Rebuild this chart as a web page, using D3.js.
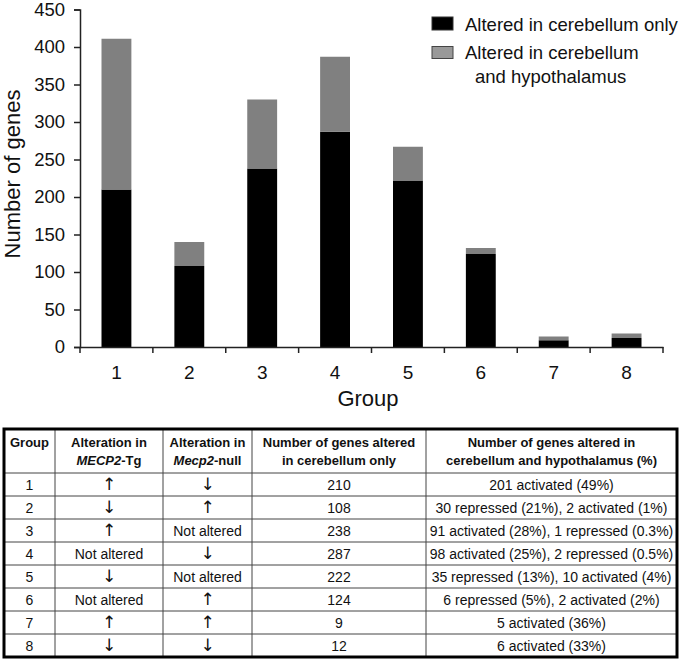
<!DOCTYPE html>
<html><head><meta charset="utf-8">
<script src="https://cdn.jsdelivr.net/npm/d3@7"></script>
<style>
body{margin:0;background:#fff;}
svg{display:block;font-family:"Liberation Sans",Arial,sans-serif;}
</style></head>
<body>
<svg id="c" width="683" height="661"></svg>
<script>
const groups = ["1","2","3","4","5","6","7","8"];
const cerebellumOnly = [210,108,238,287,222,124,9,12];
const cerebellumHypo = [201,32,92,100,45,8,5,6];
const yTicks = [0,50,100,150,200,250,300,350,400,450];
const seriesNames = ["Altered in cerebellum only","Altered in cerebellum and hypothalamus"];
const tgAlt = ["↑","↓","↑","Not altered","↓","Not altered","↑","↓"];
const nullAlt = ["↓","↑","Not altered","↓","Not altered","↑","↑","↓"];
const hypoText = ["201 activated (49%)","30 repressed (21%), 2 activated (1%)","91 activated (28%), 1 repressed (0.3%)","98 activated (25%), 2 repressed (0.5%)","35 repressed (13%), 10 activated (4%)","6 repressed (5%), 2 activated (2%)","5 activated (36%)","6 activated (33%)"];

const svg = d3.select("#c");
const x = d3.scaleBand().domain(groups).range([80,663]).padding(0);
const y = d3.scaleLinear().domain([0,450]).range([347,9.5]);
const bw = x.bandwidth();
const barW = bw*0.41;

const data = groups.map((g,i)=>({g, a:cerebellumOnly[i], b:cerebellumHypo[i]}));
const stack = d3.stack().keys(["a","b"])(data);
const colors = ["#000000","#808080"];
svg.append("g").selectAll("g").data(stack).join("g").attr("fill",(d,i)=>colors[i])
  .selectAll("rect").data(d=>d).join("rect")
  .attr("x",d=>x(d.data.g)+(bw-barW)/2).attr("width",barW)
  .attr("y",d=>y(d[1])).attr("height",d=>y(d[0])-y(d[1]));

// y axis
const ya = svg.append("g").attr("transform","translate(80,0)")
  .call(d3.axisLeft(y).tickValues(yTicks).tickSize(6).tickPadding(9));
ya.select(".domain").attr("stroke","#222").attr("stroke-width",1.5);
ya.selectAll(".tick line").attr("stroke","#222").attr("stroke-width",1.5);
ya.selectAll("text").attr("font-size",18.5).attr("fill","#111").attr("font-family","Liberation Sans, Arial, sans-serif");

// x axis
const xa = svg.append("g").attr("transform","translate(0,347)")
  .call(d3.axisBottom(x).tickSize(0).tickPadding(19));
xa.select(".domain").attr("stroke","#222").attr("stroke-width",1.5);
xa.selectAll("text").attr("font-size",19).attr("fill","#111").attr("font-family","Liberation Sans, Arial, sans-serif");
const bounds = groups.map(g=>x(g)).concat([x(groups[groups.length-1])+bw]);
svg.append("g").selectAll("line").data(bounds).join("line")
  .attr("x1",d=>d).attr("x2",d=>d).attr("y1",347).attr("y2",353)
  .attr("stroke","#222").attr("stroke-width",1.5);

svg.append("text").attr("x",368).attr("y",406).attr("text-anchor","middle")
  .attr("font-size",22).attr("fill","#111").text("Group");
svg.append("text").attr("transform","translate(20,174) rotate(-90)").attr("text-anchor","middle")
  .attr("font-size",22).attr("fill","#111").text("Number of genes");

// legend
const lg = svg.append("g");
lg.append("rect").attr("x",432).attr("y",17).attr("width",21).attr("height",13).attr("fill","#000").attr("stroke","#333");
lg.append("text").attr("x",465).attr("y",31).attr("font-size",18.5).attr("fill","#111").text(seriesNames[0]);
lg.append("rect").attr("x",432).attr("y",46.5).attr("width",21).attr("height",12).attr("fill","#999").attr("stroke","#444");
lg.append("text").attr("x",465).attr("y",58.5).attr("font-size",18.5).attr("fill","#111").text("Altered in cerebellum");
lg.append("text").attr("x",475).attr("y",83).attr("font-size",18.5).attr("fill","#111").text("and hypothalamus");

// table
const tx0 = 4, tx1 = 677, ty0 = 429, hdrB = 473, rowH = 23;
const colX = [tx0,55,163,252,426,tx1];
const tb = svg.append("g").attr("font-size",14).attr("fill","#111");
for(let i=1;i<colX.length-1;i++){
  tb.append("line").attr("x1",colX[i]).attr("x2",colX[i]).attr("y1",ty0).attr("y2",hdrB+rowH*8).attr("stroke","#444").attr("stroke-width",1);
}
for(let r=0;r<8;r++){
  tb.append("line").attr("x1",tx0).attr("x2",tx1).attr("y1",hdrB+r*rowH).attr("y2",hdrB+r*rowH).attr("stroke","#444").attr("stroke-width",1);
}
tb.append("rect").attr("x",tx0).attr("y",ty0).attr("width",tx1-tx0).attr("height",hdrB+rowH*8-ty0)
  .attr("fill","none").attr("stroke","#000").attr("stroke-width",3);
const cx = i=>(colX[i]+colX[i+1])/2;
// header
const hdr = tb.append("g").attr("font-weight","bold").attr("text-anchor","middle").attr("font-size",13);
hdr.append("text").attr("x",cx(0)).attr("y",447).text("Group");
hdr.append("text").attr("x",cx(1)).attr("y",447).text("Alteration in");
const h2 = hdr.append("text").attr("x",cx(1)).attr("y",465);
h2.append("tspan").attr("font-style","italic").text("MECP2");
h2.append("tspan").text("-Tg");
hdr.append("text").attr("x",cx(2)).attr("y",447).text("Alteration in");
const h3 = hdr.append("text").attr("x",cx(2)).attr("y",465);
h3.append("tspan").attr("font-style","italic").text("Mecp2");
h3.append("tspan").text("-null");
hdr.append("text").attr("x",cx(3)).attr("y",447).text("Number of genes altered");
hdr.append("text").attr("x",cx(3)).attr("y",465).text("in cerebellum only");
hdr.append("text").attr("x",cx(4)).attr("y",447).text("Number of genes altered in");
hdr.append("text").attr("x",cx(4)).attr("y",465).text("cerebellum and hypothalamus (%)");
// rows
const rows = groups.map((g,i)=>[g,tgAlt[i],nullAlt[i],String(cerebellumOnly[i]),hypoText[i]]);
rows.forEach((row,r)=>{
  row.forEach((t,c)=>{
    const isArrow = (t==="↑"||t==="↓");
    tb.append("text").attr("x",cx(c)).attr("y",hdrB+r*rowH+rowH/2+5.5).attr("text-anchor","middle")
      .attr("font-size",isArrow?17:14)
      .attr("font-family",isArrow?"DejaVu Sans, sans-serif":null)
      .text(t);
  });
});
</script>
</body></html>
